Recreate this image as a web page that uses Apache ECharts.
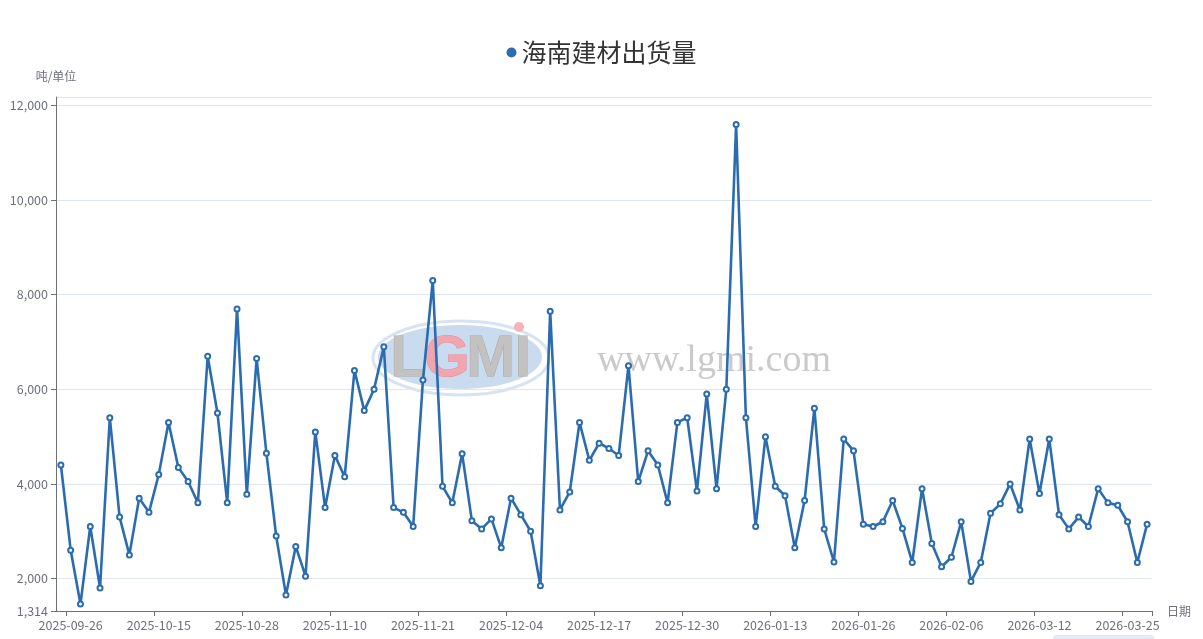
<!DOCTYPE html>
<html>
<head>
<meta charset="utf-8">
<title>海南建材出货量</title>
<script src="https://cdn.jsdelivr.net/npm/echarts@6/dist/echarts.min.js"></script>
<style>
  html, body { margin: 0; padding: 0; background: #fff; }
  #main { width: 1203px; height: 639px; }
</style>
</head>
<body>
<div id="main"></div>
<script>
// 日期 (x轴)
const dates = [
  '2025-09-25', '2025-09-26', '2025-09-28', '2025-09-29', '2025-09-30', '2025-10-09', '2025-10-10', '2025-10-11', '2025-10-13', '2025-10-14',
  '2025-10-15', '2025-10-16', '2025-10-17', '2025-10-20', '2025-10-21', '2025-10-22', '2025-10-23', '2025-10-24', '2025-10-27',
  '2025-10-28', '2025-10-29', '2025-10-30', '2025-10-31', '2025-11-03', '2025-11-04', '2025-11-05', '2025-11-06', '2025-11-07',
  '2025-11-10', '2025-11-11', '2025-11-12', '2025-11-13', '2025-11-14', '2025-11-17', '2025-11-18', '2025-11-19', '2025-11-20',
  '2025-11-21', '2025-11-24', '2025-11-25', '2025-11-26', '2025-11-27', '2025-11-28', '2025-12-01', '2025-12-02', '2025-12-03',
  '2025-12-04', '2025-12-05', '2025-12-08', '2025-12-09', '2025-12-10', '2025-12-11', '2025-12-12', '2025-12-15', '2025-12-16',
  '2025-12-17', '2025-12-18', '2025-12-19', '2025-12-22', '2025-12-23', '2025-12-24', '2025-12-25', '2025-12-26', '2025-12-29',
  '2025-12-30', '2025-12-31', '2026-01-02', '2026-01-05', '2026-01-06', '2026-01-07', '2026-01-08', '2026-01-09', '2026-01-12',
  '2026-01-13', '2026-01-14', '2026-01-15', '2026-01-16', '2026-01-19', '2026-01-20', '2026-01-21', '2026-01-22', '2026-01-23',
  '2026-01-26', '2026-01-27', '2026-01-28', '2026-01-29', '2026-01-30', '2026-02-02', '2026-02-03', '2026-02-04', '2026-02-05',
  '2026-02-06', '2026-02-09', '2026-02-10', '2026-02-11', '2026-03-05', '2026-03-06', '2026-03-09', '2026-03-10', '2026-03-11',
  '2026-03-12', '2026-03-13', '2026-03-16', '2026-03-17', '2026-03-18', '2026-03-19', '2026-03-20', '2026-03-23', '2026-03-24',
  '2026-03-25', '2026-03-26', '2026-03-27'
];

// 出货量 (吨)
const shipments = [
  4400, 2600, 1460, 3100, 1800, 5400, 3300, 2500, 3700, 3400,
  4200, 5300, 4350, 4050, 3600, 6700, 5500, 3600, 7700, 3780,
  6650, 4650, 2900, 1650, 2680, 2050, 5100, 3500, 4600, 4150,
  6400, 5550, 6000, 6900, 3500, 3400, 3100, 6200, 8300, 3950,
  3600, 4640, 3220, 3050, 3260, 2650, 3700, 3350, 3000, 1850,
  7650, 3450, 3830, 5300, 4500, 4860, 4750, 4600, 6500, 4050,
  4700, 4400, 3600, 5300, 5400, 3850, 5900, 3900, 6000, 11600,
  5400, 3100, 5000, 3950, 3750, 2650, 3650, 5600, 3050, 2350,
  4950, 4700, 3150, 3100, 3200, 3650, 3060, 2340, 3900, 2740,
  2250, 2450, 3200, 1940, 2340, 3380, 3580, 4000, 3450, 4950,
  3800, 4950, 3350, 3050, 3300, 3100, 3900, 3600, 3550, 3200,
  2340, 3150
];

const seriesName = '海南建材出货量';
const lineColor = '#2b6cb0';
const font = "'Microsoft YaHei', 'Noto Sans CJK SC', sans-serif";
const logoFont = 'bold 58px "Liberation Sans", sans-serif';

const myChart = echarts.init(document.getElementById('main'));

const option = {
  textStyle: { fontFamily: font },
  legend: {
    data: [{ name: seriesName, icon: 'circle' }],
    top: 35,
    left: 'center',
    itemWidth: 10,
    itemHeight: 10,
    itemGap: 5,
    textStyle: { fontSize: 25, color: '#333', fontFamily: font }
  },
  grid: {
    left: 56,
    right: 51,
    top: 97,
    bottom: 28
  },
  // 水印 LGMI
  graphic: [
    {
      type: 'ellipse',
      shape: { cx: 461, cy: 358, rx: 88, ry: 37 },
      style: { fill: 'none', stroke: '#d6e3f2', lineWidth: 3 },
      z: 0
    },
    {
      type: 'ellipse',
      shape: { cx: 460, cy: 357, rx: 82, ry: 32 },
      style: { fill: '#c9dbee' },
      z: 0
    },
    {
      type: 'text',
      left: 390,
      top: 330,
      style: { text: 'L', fill: '#c4c1c1', stroke: '#aaa7a7', lineWidth: 1, font: logoFont },
      z: 0
    },
    {
      type: 'text',
      left: 424,
      top: 330,
      style: { text: 'G', fill: '#f2a5ae', stroke: '#e28f99', lineWidth: 1, font: logoFont },
      z: 0
    },
    {
      type: 'text',
      left: 466,
      top: 330,
      style: { text: 'MI', fill: '#c4c1c1', stroke: '#aaa7a7', lineWidth: 1, font: logoFont },
      z: 0
    },
    {
      type: 'circle',
      shape: { cx: 519, cy: 327, r: 5 },
      style: { fill: '#f5b3ba' },
      z: 0
    },
    {
      type: 'text',
      left: 597,
      top: 342,
      style: {
        text: 'www.lgmi.com',
        fill: '#cacaca',
        font: '38px "Liberation Serif", serif'
      },
      z: 0
    },
    {
      type: 'rect',
      shape: { x: 1053, y: 635, width: 101, height: 8, r: 3 },
      style: { fill: '#e3ebf7' },
      z: 0
    }
  ],
  xAxis: {
    type: 'category',
    name: '日期',
    nameTextStyle: { color: '#6E7079', fontSize: 12 },
    data: dates,
    axisLine: { lineStyle: { color: '#6E7079' } },
    axisTick: {
      show: true,
      interval: (index) => index % 9 === 1
    },
    axisLabel: {
      color: '#6E7079',
      fontSize: 12.5,
      interval: (index) => index % 9 === 1
    }
  },
  yAxis: {
    type: 'value',
    name: '吨/单位',
    nameTextStyle: { color: '#6E7079', fontSize: 12 },
    min: 1314,
    max: 12180,
    axisLine: { show: true, lineStyle: { color: '#6E7079' } },
    axisTick: { show: true },
    axisLabel: { color: '#6E7079', fontSize: 12.5 },
    splitLine: { lineStyle: { color: '#E0E6F1' } }
  },
  series: [
    {
      name: seriesName,
      type: 'line',
      data: shipments,
      symbol: 'emptyCircle',
      symbolSize: 5,
      showAllSymbol: true,
      z: 3,
      lineStyle: { width: 2.6, color: lineColor },
      itemStyle: { color: lineColor, borderWidth: 1.5 }
    }
  ]
};

myChart.setOption(option);
</script>
</body>
</html>
